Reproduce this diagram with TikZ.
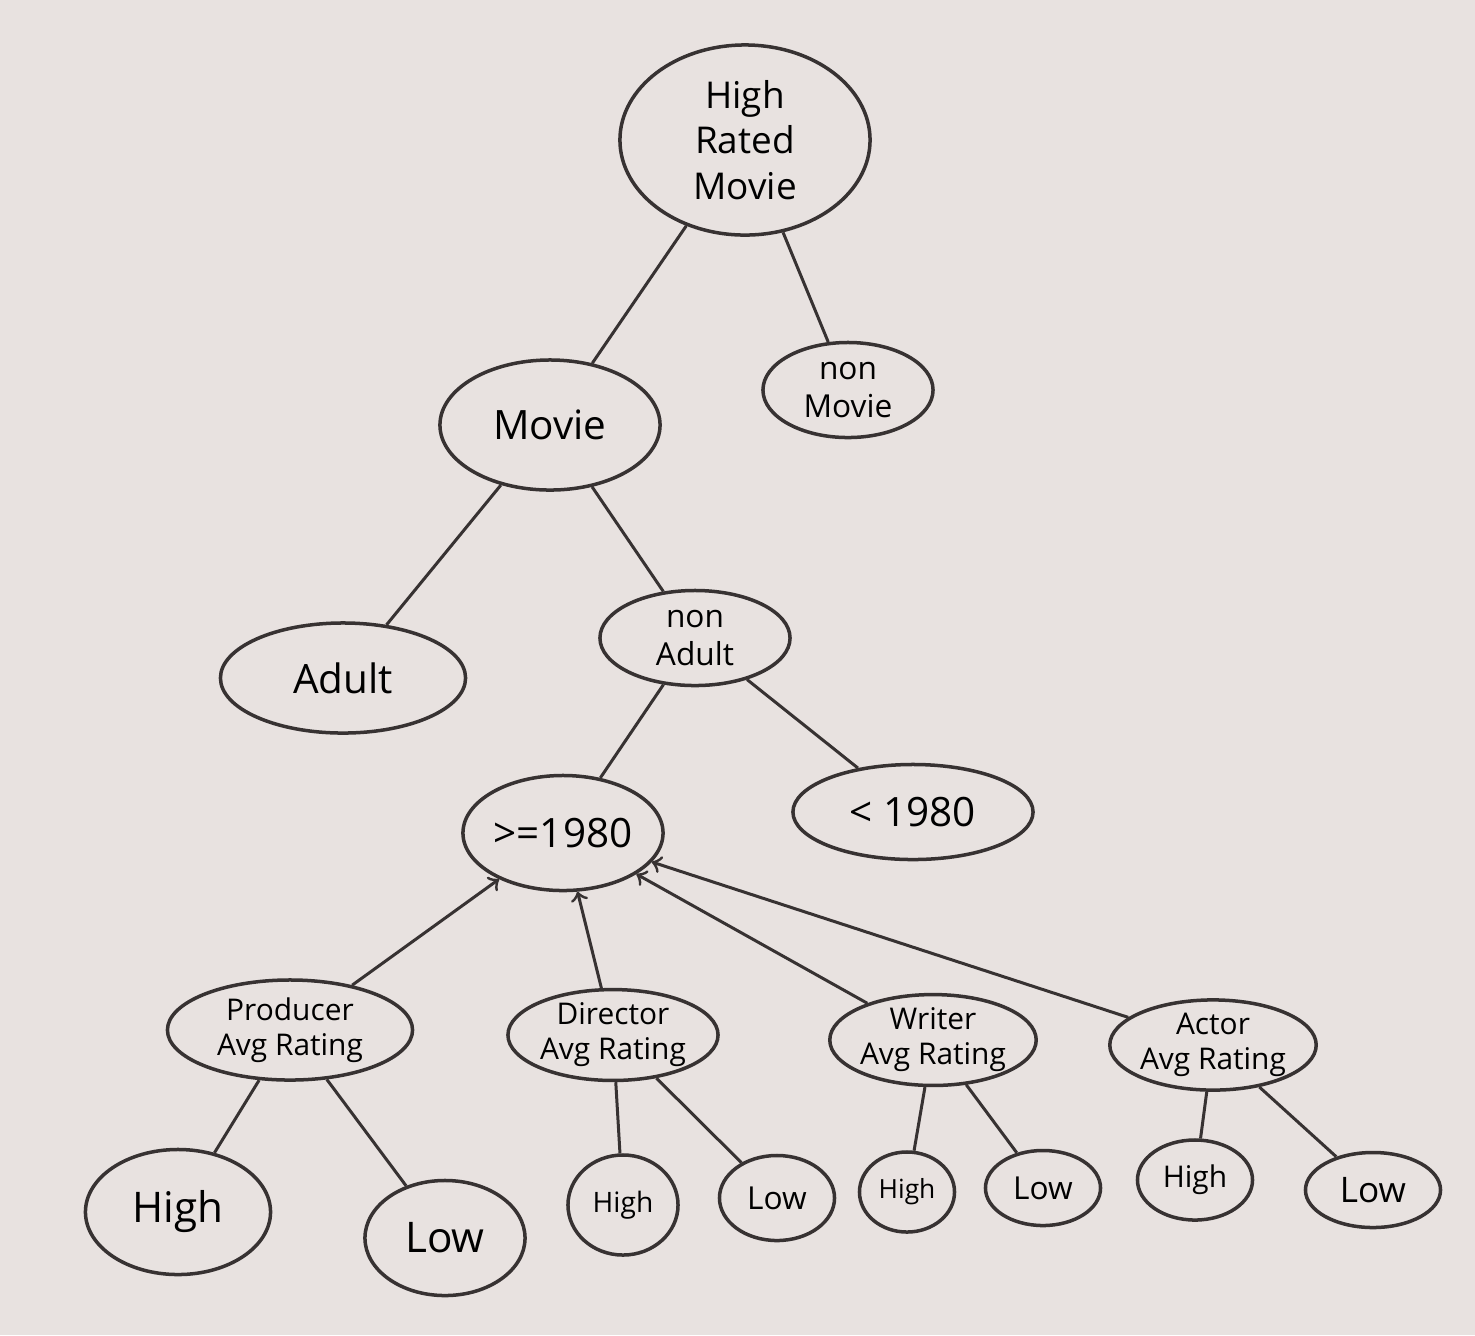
\documentclass[tikz,border=0pt]{standalone}
\usepackage{fontspec}
\setmainfont{Open Sans}
\usetikzlibrary{shapes.geometric}
\definecolor{board}{RGB}{232,226,224}
\definecolor{marker}{RGB}{55,50,50}
\tikzset{
  bubble/.style={ellipse, draw=marker, line width=.35mm, inner sep=0pt, text=black, align=center},
  twig/.style={draw=marker, line width=.3mm},
  big/.style={font=\fontsize{11.5}{13}\selectfont},
  mid/.style={font=\fontsize{9}{11}\selectfont},
  small/.style={font=\fontsize{8.5}{10}\selectfont},
}
\begin{document}
\begin{tikzpicture}[x=0.01cm,y=-0.01cm]
\useasboundingbox[fill=board] (0,0) rectangle (1475,1335);
% top of the tree
\node[bubble, font=\fontsize{10.5}{13}\selectfont, minimum width=2.5cm, minimum height=1.9cm] (root) at (745,140) {High\\Rated\\Movie};
\node[bubble, big, minimum width=2.2cm, minimum height=1.3cm] (movie) at (550,425) {Movie};
\node[bubble, mid, minimum width=1.7cm, minimum height=.95cm] (nonmovie) at (848,390) {non\\Movie};
\node[bubble, big, minimum width=2.45cm, minimum height=1.1cm] (adult) at (343,678) {Adult};
\node[bubble, mid, minimum width=1.9cm, minimum height=.95cm] (nonadult) at (695,638) {non\\Adult};
\node[bubble, big, minimum width=2cm, minimum height=1.15cm] (after) at (563,833) {>=1980};
\node[bubble, big, minimum width=2.4cm, minimum height=.95cm] (before) at (913,812) {< 1980};
% rating nodes
\node[bubble, small, minimum width=2.45cm, minimum height=1cm] (producer) at (290,1030) {Producer\\Avg Rating};
\node[bubble, small, minimum width=2.1cm, minimum height=.85cm] (director) at (613,1035) {Director\\Avg Rating};
\node[bubble, small, minimum width=2cm, minimum height=.75cm] (writer) at (933,1040) {Writer\\Avg Rating};
\node[bubble, small, minimum width=1.85cm, minimum height=.8cm] (actor) at (1213,1045) {Actor\\Avg Rating};
% leaves
\node[bubble, font=\fontsize{12}{14}\selectfont, minimum width=1.85cm, minimum height=1.25cm] (phigh) at (178,1212) {High};
\node[bubble, font=\fontsize{12}{14}\selectfont, minimum width=1.6cm, minimum height=1.15cm] (plow) at (445,1238) {Low};
\node[bubble, font=\fontsize{8}{10}\selectfont, minimum width=1.1cm, minimum height=1cm] (dhigh) at (623,1205) {High};
\node[bubble, mid, minimum width=1.15cm, minimum height=.85cm] (dlow) at (777,1198) {Low};
\node[bubble, font=\fontsize{7.5}{9}\selectfont, minimum width=.95cm, minimum height=.8cm] (whigh) at (907,1192) {High};
\node[bubble, mid, minimum width=1.15cm, minimum height=.75cm] (wlow) at (1043,1188) {Low};
\node[bubble, font=\fontsize{8.5}{10}\selectfont, minimum width=1.15cm, minimum height=.8cm] (ahigh) at (1195,1180) {High};
\node[bubble, font=\fontsize{10}{12}\selectfont, minimum width=1.35cm, minimum height=.75cm] (alow) at (1373,1190) {Low};
% branches
\draw[twig] (root) -- (movie);
\draw[twig] (root) -- (nonmovie);
\draw[twig] (movie) -- (adult);
\draw[twig] (movie) -- (nonadult);
\draw[twig] (nonadult) -- (after);
\draw[twig] (nonadult) -- (before);
\draw[twig,->] (producer) -- (after);
\draw[twig,->] (director) -- (after);
\draw[twig,->] (writer) -- (after);
\draw[twig,->] (actor) -- (after);
\draw[twig] (producer) -- (phigh);
\draw[twig] (producer) -- (plow);
\draw[twig] (director) -- (dhigh);
\draw[twig] (director) -- (dlow);
\draw[twig] (writer) -- (whigh);
\draw[twig] (writer) -- (wlow);
\draw[twig] (actor) -- (ahigh);
\draw[twig] (actor) -- (alow);
\end{tikzpicture}
\end{document}
